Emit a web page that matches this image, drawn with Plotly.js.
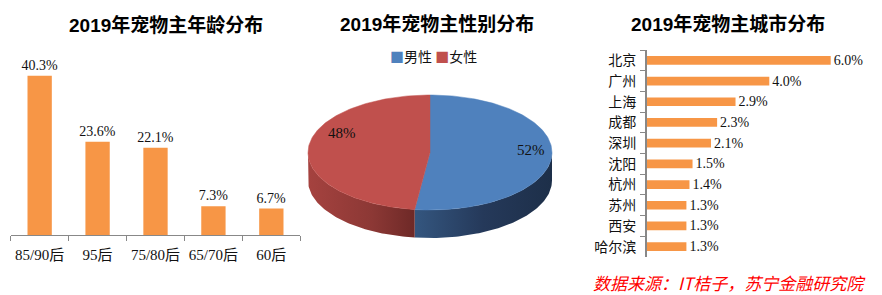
<!DOCTYPE html>
<html>
<head>
<meta charset="utf-8">
<script src="https://cdn.plot.ly/plotly-3.0.1.min.js"></script>
<style>html,body{margin:0;padding:0;background:#fff;}#chart{width:882px;height:295px;}</style>
</head>
<body>
<div id="chart"></div>
<script>
// ---- data ----
const ageCategories = ['85/90后', '95后', '75/80后', '65/70后', '60后'];
const ageValues = [40.3, 23.6, 22.1, 7.3, 6.7];

const genderLabels = ['男性', '女性'];
const genderValues = [52, 48];

const cityCategories = ['北京', '广州', '上海', '成都', '深圳', '沈阳', '杭州', '苏州', '西安', '哈尔滨'];
const cityValues = [6.0, 4.0, 2.9, 2.3, 2.1, 1.5, 1.4, 1.3, 1.3, 1.3];

const titles = ['2019年宠物主年龄分布', '2019年宠物主性别分布', '2019年宠物主城市分布'];
const sourceText = '数据来源：IT桔子，苏宁金融研究院';

// ---- layout helpers (pixel -> paper) ----
const W = 882, H = 295;
const px = x => x / W;
const py = y => 1 - y / H;

const ORANGE = '#f79646';
const BLUE = '#4f81bd', RED = '#c0504d';
const serif = '"Liberation Serif", "Noto Sans CJK SC", serif';
const cjk = '"Noto Sans CJK SC", sans-serif';
const titleFont = '"Liberation Sans", "Noto Sans CJK SC", sans-serif';

const traces = [];

// left: age bars
traces.push({
  type: 'bar', x: ageCategories, y: ageValues, xaxis: 'x', yaxis: 'y',
  marker: {color: ORANGE},
  text: ageValues.map(v => v.toFixed(1) + '%'), textposition: 'outside', constraintext: 'none',
  textfont: {family: serif, size: 14, color: '#111'},
  cliponaxis: false, showlegend: false, hoverinfo: 'skip'
});

// middle: 3D-looking pie drawn from the values on a pixel-like axis
const cx = 430, cy = H - 152.5, rx = 122, ry = 57.5, depth = 28;
const total = genderValues.reduce((a, b) => a + b, 0);
const pt = (t, dy) => [cx + rx * Math.sin(t), cy + ry * Math.cos(t) - (dy || 0)];
function arc(a, b, dy) {
  const n = Math.max(4, Math.ceil(Math.abs(b - a) / 0.02));
  const out = [];
  for (let i = 0; i <= n; i++) out.push(pt(a + (b - a) * i / n, dy));
  return out;
}
const sliceColors = [BLUE, RED];
const sideScales = [
  [[0, '#34567f'], [0.5, '#25395a'], [1, '#1d2f49']],
  [[0, '#a5423f'], [0.6, '#8c3835'], [1, '#6e2927']]
];
let start = 0;
const angles = genderValues.map(v => { const a = start; start += v / total * 2 * Math.PI; return [a, start]; });
// sides (front half only: angle in [pi/2, 3pi/2])
angles.forEach((ab, i) => {
  const a = Math.max(ab[0], Math.PI / 2), b = Math.min(ab[1], 3 * Math.PI / 2);
  if (b <= a) return;
  const top = arc(a, b, 0), bot = arc(b, a, depth);
  const poly = top.concat(bot);
  poly.push(top[0]);
  traces.push({
    type: 'scatter', mode: 'lines', xaxis: 'x2', yaxis: 'y2',
    x: poly.map(p => p[0]), y: poly.map(p => p[1]),
    fill: 'toself', line: {width: 0, color: sliceColors[i]},
    fillgradient: {type: 'horizontal', colorscale: sideScales[i]},
    fillcolor: sideScales[i][1][1],
    showlegend: false, hoverinfo: 'skip'
  });
});
// top faces
angles.forEach((ab, i) => {
  const poly = [[cx, cy]].concat(arc(ab[0], ab[1], 0));
  poly.push([cx, cy]);
  traces.push({
    type: 'scatter', mode: 'lines', xaxis: 'x2', yaxis: 'y2',
    x: poly.map(p => p[0]), y: poly.map(p => p[1]),
    fill: 'toself', fillcolor: sliceColors[i], line: {width: 0.5, color: sliceColors[i]},
    name: genderLabels[i], showlegend: false, hoverinfo: 'skip'
  });
});

// right: city bars
traces.push({
  type: 'bar', orientation: 'h', y: cityCategories, x: cityValues, xaxis: 'x3', yaxis: 'y3',
  marker: {color: ORANGE},
  text: cityValues.map(v => v.toFixed(1) + '%'), textposition: 'outside', constraintext: 'none',
  textfont: {family: serif, size: 14, color: '#111'},
  cliponaxis: false, showlegend: false, hoverinfo: 'skip'
});

const annotations = [
  {text: '<b>' + titles[0] + '</b>', x: px(166), y: py(25)},
  {text: '<b>' + titles[1] + '</b>', x: px(437), y: py(24)},
  {text: '<b>' + titles[2] + '</b>', x: px(728), y: py(24)}
].map(a => Object.assign(a, {xref: 'paper', yref: 'paper', showarrow: false, xanchor: 'center', yanchor: 'middle',
  font: {family: titleFont, size: 19, color: '#000'}}));

// pie legend
annotations.push({
  xref: 'paper', yref: 'paper', x: px(388), y: py(56), xanchor: 'left', yanchor: 'middle', showarrow: false,
  text: '<span style="color:' + BLUE + '">■</span>' + genderLabels[0] + ' <span style="color:' + RED + '">■</span>' + genderLabels[1],
  font: {family: cjk, size: 14, color: '#111'}
});
// pie value labels
const labelPos = [[531, 150], [342, 133]];
genderValues.forEach((v, i) => {
  annotations.push({
    xref: 'paper', yref: 'paper', x: px(labelPos[i][0]), y: py(labelPos[i][1]), xanchor: 'center', yanchor: 'middle',
    showarrow: false, text: Math.round(v / total * 100) + '%', font: {family: serif, size: 15, color: '#111'}
  });
});
// source
annotations.push({
  xref: 'paper', yref: 'paper', x: px(868), y: py(282), xanchor: 'right', yanchor: 'middle', showarrow: false,
  text: '<i>' + sourceText + '</i>', font: {family: cjk, size: 17, color: '#ff0000', style: 'italic'}
});

const layout = {
  width: W, height: H, margin: {l: 0, r: 0, t: 0, b: 0},
  paper_bgcolor: '#fff', plot_bgcolor: 'rgba(0,0,0,0)',
  bargap: 0.58,
  xaxis: {domain: [px(10.7), px(300.3)], anchor: 'y', showline: true, linecolor: '#888', linewidth: 1,
    ticks: 'outside', tickson: 'boundaries', ticklen: 5, tickcolor: '#888', showgrid: false, zeroline: false,
    tickangle: 0, ticklabelstandoff: 6, tickfont: {family: serif, size: 15, color: '#111'}, fixedrange: true},
  yaxis: {domain: [py(235), py(57.25)], range: [0, 45], visible: false, fixedrange: true},
  xaxis2: {domain: [px(300), px(560)], range: [300, 560], visible: false, anchor: 'y2'},
  yaxis2: {domain: [45 / H, 215 / H], range: [45, 215], visible: false, anchor: 'x2'},
  xaxis3: {domain: [px(646.5), px(646.5 + 7 * 30.7)], range: [0, 7], visible: false, anchor: 'y3'},
  yaxis3: {domain: [py(257), py(50)], anchor: 'x3', autorange: 'reversed', showline: true, linecolor: '#888', linewidth: 1.5,
    ticks: 'outside', tickson: 'boundaries', ticklen: 5, tickcolor: '#888', showgrid: false, zeroline: false,
    ticklabelstandoff: 6, tickfont: {family: cjk, size: 14, color: '#111'}},
  annotations: annotations,
  showlegend: false
};

Plotly.newPlot('chart', traces, layout, {staticPlot: true, displayModeBar: false});
</script>
</body>
</html>
